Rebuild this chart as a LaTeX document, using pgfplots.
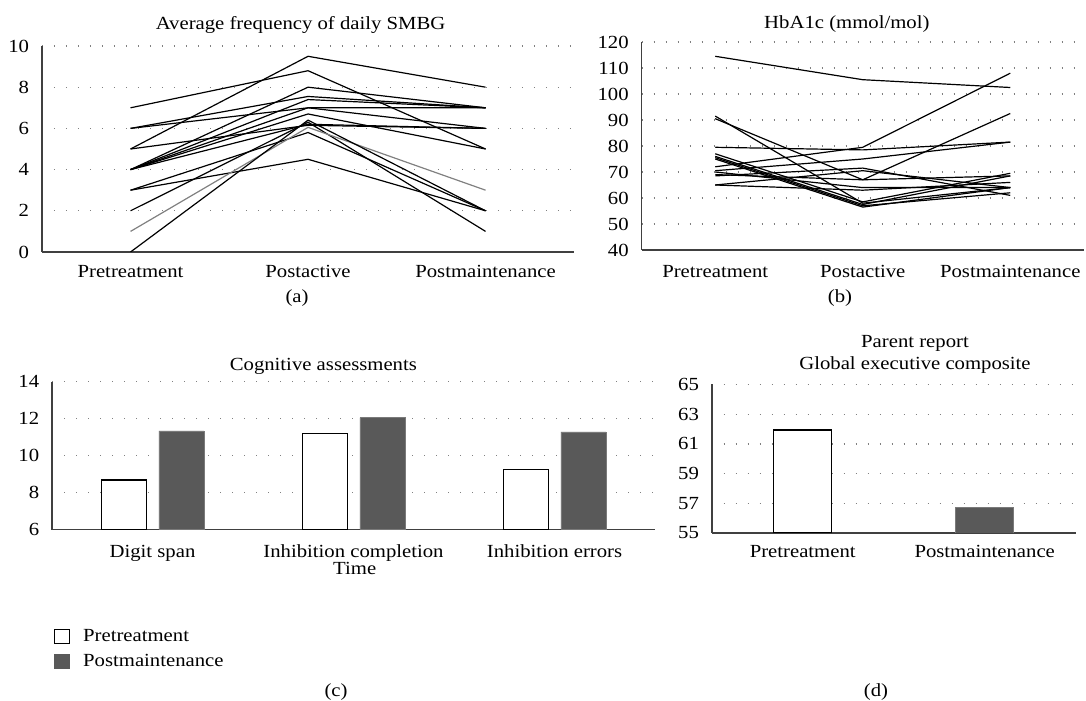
\documentclass[border=0pt]{standalone}
\usepackage{pgfplots}
\pgfplotsset{compat=1.18}
\usepackage{fontspec}
\setmainfont{Liberation Serif}[FakeStretch=1.12]
\definecolor{darkbar}{HTML}{595959}
\definecolor{darkedge}{HTML}{7A7A7A}
\definecolor{axisc}{HTML}{404040}
\definecolor{grayline}{HTML}{808080}
\newcommand{\fs}{\fontsize{18.5bp}{22bp}\selectfont}
\pgfplotsset{
  myaxis/.style={
    scale only axis, anchor=south west,
    axis x line=bottom, axis y line=left,
    axis line style={-, draw=axisc, line width=1.6bp},
    tick style={draw=none},
    ymajorgrids,
    grid style={draw=black!50, line width=1.3bp, dash pattern=on 1.3bp off 10.7bp},
    tick label style={font=\fs},
    /pgf/number format/assume math mode=true,
    yticklabel style={anchor=east, inner sep=0pt, xshift=-10.5bp},
    xticklabel style={anchor=base, inner sep=0pt},
    every axis title shift=0pt,
    title style={font=\fs, anchor=base, inner sep=0pt, yshift=0pt},
    label style={font=\fs},
  },
  L/.style={black, line width=1.2bp, mark=none},
}
\begin{document}
\begin{tikzpicture}[font=\fs]
\path[use as bounding box] (0,0) rectangle (1086bp,701bp);

% (a)
\begin{axis}[myaxis, at={(41.8bp,449bp)}, width=532.5bp, height=206bp,
  xmin=-0.5, xmax=2.5, ymin=0, ymax=10, ytick={0,2,...,10},
  xtick={0,1,2}, xticklabels={Pretreatment,Postactive,Postmaintenance},
  xticklabel style={yshift=-23bp},
  title={Average frequency of daily SMBG},
  title style={at={(axis description cs:0.486,1.078)}}]
\addplot[L] coordinates {(0,7)(1,8.8)(2,5)};
\addplot[L] coordinates {(0,5)(1,9.5)(2,8)};
\addplot[L] coordinates {(0,6)(1,7.55)(2,7)};
\addplot[L] coordinates {(0,6)(1,7.0)(2,7)};
\addplot[L] coordinates {(0,5)(1,6.15)(2,6)};
\addplot[L] coordinates {(0,4)(1,8.0)(2,7)};
\addplot[L] coordinates {(0,4)(1,7.4)(2,7)};
\addplot[L] coordinates {(0,4)(1,7.0)(2,6)};
\addplot[L] coordinates {(0,4)(1,6.7)(2,5)};
\addplot[L] coordinates {(0,4)(1,6.2)(2,6)};
\addplot[L] coordinates {(0,3)(1,5.8)(2,2)};
\addplot[L] coordinates {(0,3)(1,4.5)(2,2)};
\addplot[L] coordinates {(0,2)(1,6.3)(2,1)};
\addplot[L, grayline] coordinates {(0,1)(1,6.05)(2,3)};
\addplot[L] coordinates {(0,0)(1,6.4)(2,2)};
\end{axis}

% (b)
\begin{axis}[myaxis, at={(641.5bp,451bp)}, width=442.5bp, height=208bp,
  xmin=-0.5, xmax=2.5, ymin=40, ymax=120, ytick={40,50,...,120},
  xtick={0,1,2}, xticklabels={Pretreatment,Postactive,Postmaintenance},
  xticklabel style={yshift=-25bp},
  title={HbA1c (mmol/mol)},
  title style={at={(axis description cs:0.464,1.0625)}}]
\addplot[L] coordinates {(0,114.5)(1,105.5)(2,102.5)};
\addplot[L] coordinates {(0,72)(1,79.5)(2,108)};
\addplot[L] coordinates {(0,79.5)(1,78.5)(2,81.5)};
\addplot[L] coordinates {(0,70.5)(1,75)(2,81.5)};
\addplot[L] coordinates {(0,90.5)(1,67)(2,92.5)};
\addplot[L] coordinates {(0,91.5)(1,58)(2,64)};
\addplot[L] coordinates {(0,77)(1,58.5)(2,69.5)};
\addplot[L] coordinates {(0,76)(1,57.5)(2,68.5)};
\addplot[L] coordinates {(0,75)(1,56.5)(2,64)};
\addplot[L] coordinates {(0,75.5)(1,57)(2,62)};
\addplot[L] coordinates {(0,68.5)(1,71.5)(2,61)};
\addplot[L] coordinates {(0,65)(1,70.5)(2,64)};
\addplot[L] coordinates {(0,65)(1,63)(2,66)};
\addplot[L] coordinates {(0,70)(1,64)(2,64)};
\addplot[L] coordinates {(0,69)(1,67)(2,68.5)};
\end{axis}

% (c)
\begin{axis}[myaxis, ybar, at={(52bp,171.5bp)}, width=603bp, height=148bp,
  xmin=-0.5, xmax=2.5, ymin=6, ymax=14, ytick={6,8,...,14},
  xtick={0,1,2}, xticklabels={Digit span,Inhibition completion,Inhibition errors},
  xticklabel style={yshift=-24bp},
  xlabel={Time},
  xlabel style={at={(axis description cs:0.502,-0.305)}, anchor=base, inner sep=0pt, yshift=0pt},
  title={Cognitive assessments},
  title style={at={(axis description cs:0.450,1.071)}},
  legend style={at={(axis description cs:0.0033,-0.668)}, anchor=north west,
    draw=none, fill=none, inner sep=0pt, font=\fs, row sep=9bp,
    /tikz/every odd column/.append style={column sep=12bp},
    nodes={inner sep=1bp}},
  legend cell align=left]
\addplot[fill=white, draw=black, line width=1.2bp, bar width=45bp, bar shift=-28.8bp,
  legend image code/.code={\draw[fill=white, draw=black, line width=1bp] (0bp,-7bp) rectangle (15bp,7bp);}]
  coordinates {(0,8.68)(1,11.2)(2,9.24)};
\addlegendentry{Pretreatment}
\addplot[fill=darkbar, draw=darkedge, line width=0.6bp, bar width=45bp, bar shift=28.8bp,
  legend image code/.code={\draw[fill=darkbar, draw=darkbar, line width=0.6bp] (0bp,-7bp) rectangle (15bp,7bp);}]
  coordinates {(0,11.33)(1,12.05)(2,11.28)};
\addlegendentry{Postmaintenance}
\end{axis}

% (d)
\begin{axis}[myaxis, ybar, at={(711.7bp,168bp)}, width=364bp, height=148.5bp,
  xmin=-0.5, xmax=1.5, ymin=55, ymax=65, ytick={55,57,...,65},
  xtick={0,1}, xticklabels={Pretreatment,Postmaintenance},
  xticklabel style={yshift=-20bp},
  title={Parent report\\Global executive composite},
  title style={align=center, anchor=south, at={(axis description cs:0.5585,1.072)}}]
\addplot[fill=white, draw=black, line width=1.2bp, bar width=58bp, bar shift=0bp]
  coordinates {(0,61.94)};
\addplot[fill=darkbar, draw=darkedge, line width=0.6bp, bar width=58bp, bar shift=0bp]
  coordinates {(1,56.71)};
\end{axis}

\node[anchor=base] at (297bp,398bp) {(a)};
\node[anchor=base] at (840bp,398bp) {(b)};
\node[anchor=base] at (336bp,5bp) {(c)};
\node[anchor=base] at (876bp,5bp) {(d)};
\end{tikzpicture}
\end{document}
